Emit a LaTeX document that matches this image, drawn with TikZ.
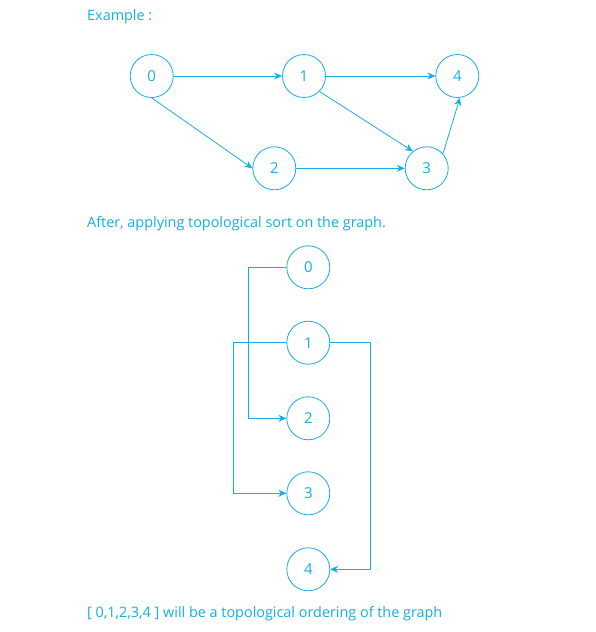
\documentclass[tikz,border=0pt]{standalone}
\usepackage{fontspec}
\setmainfont{Open Sans}
\usetikzlibrary{arrows.meta}
\definecolor{tblue}{RGB}{22,172,230}
\begin{document}
\begin{tikzpicture}[x=1pt,y=-1pt,
  vtx/.style={circle,draw=tblue,line width=0.8pt,minimum size=43pt,inner sep=0pt,text=tblue,font=\fontsize{15}{17}\selectfont},
  edge/.style={draw=tblue,line width=0.8pt,-{Stealth[length=8pt,width=7pt]}},
  lbl/.style={anchor=west,text=tblue,inner sep=0pt,font=\fontsize{14.4}{17}\selectfont}]
\useasboundingbox (0,0) rectangle (596,632);
\node[lbl] (t1) at (87,17) {Example :};
\node[lbl] (t2) at (87,224) {After, applying topological sort on the graph.};
\node[lbl] (t3) at (87,614) {[ 0,1,2,3,4 ] will be a topological ordering of the graph};
% top graph
\node[vtx] (a0) at (151.7,76) {0};
\node[vtx] (a1) at (304,76) {1};
\node[vtx] (a4) at (457.3,76) {4};
\node[vtx] (a2) at (274.3,168.3) {2};
\node[vtx] (a3) at (426.7,168.3) {3};
\draw[edge] (a0.east) -- (a1.west);
\draw[edge] (a1.east) -- (a4.west);
\draw[edge] (a0.south) -- (a2.west);
\draw[edge] (a2.east) -- (a3.west);
\draw[edge] (a1.-45) -- (a3.129);
\draw[edge] (a3.42) -- (a4.-83);
% bottom graph
\node[vtx] (b0) at (308.3,267.3) {0};
\node[vtx] (b1) at (308.3,342.7) {1};
\node[vtx] (b2) at (308.3,418.3) {2};
\node[vtx] (b3) at (308.3,493.3) {3};
\node[vtx] (b4) at (308.3,569.3) {4};
\draw[edge] (b0.west) -- ++(-37.6,0) |- (b2.west);
\draw[edge] (b1.west) -- ++(-52.6,0) |- (b3.west);
\draw[edge] (b1.east) -- ++(40,0) |- (b4.east);
\end{tikzpicture}
\end{document}
